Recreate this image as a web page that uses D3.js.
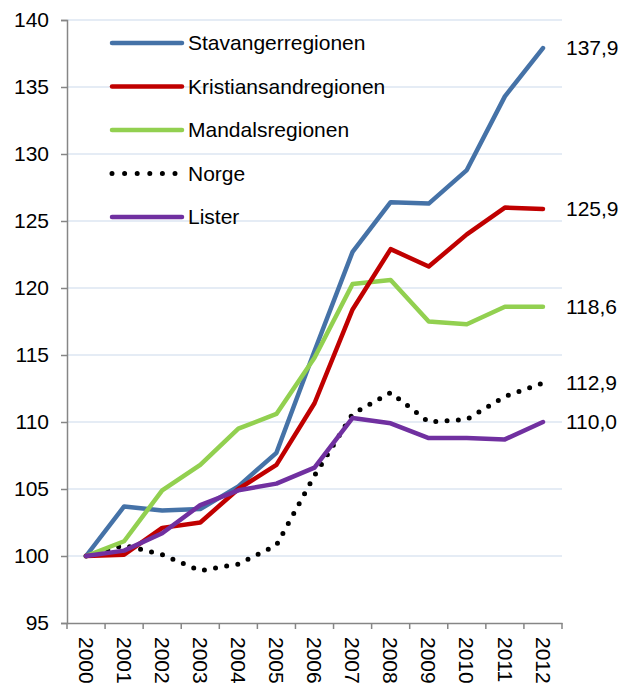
<!DOCTYPE html>
<html>
<head>
<meta charset="utf-8">
<script src="https://cdn.jsdelivr.net/npm/d3@7"></script>
<style>
  body { margin: 0; background: #fff; }
  text { font-family: "Liberation Sans", Arial, sans-serif; fill: #000; }
</style>
</head>
<body>
<div id="chart"></div>
<script>
var years = ["2000","2001","2002","2003","2004","2005","2006","2007","2008","2009","2010","2011","2012"];
var stavanger    = [100, 103.7, 103.4, 103.5, 105.2, 107.7, 115.3, 122.7, 126.4, 126.3, 128.8, 134.3, 137.9];
var kristiansand = [100, 100.1, 102.1, 102.5, 105.0, 106.8, 111.4, 118.4, 122.9, 121.6, 124.0, 126.0, 125.9];
var mandal       = [100, 101.1, 104.9, 106.8, 109.5, 110.6, 114.8, 120.3, 120.6, 117.5, 117.3, 118.6, 118.6];
var norge        = [100, 100.8, 100.1, 98.9, 99.4, 100.8, 106.0, 110.6, 112.2, 110.0, 110.2, 111.9, 112.9];
var lister       = [100, 100.4, 101.7, 103.8, 104.9, 105.4, 106.6, 110.3, 109.9, 108.8, 108.8, 108.7, 110.0];
var endLabels = ["137,9", "125,9", "118,6", "112,9", "110,0"];
var yTicks = [95, 100, 105, 110, 115, 120, 125, 130, 135, 140];

var series = [
  {name: "Stavangerregionen", values: stavanger, color: "#4572A7", label: endLabels[0]},
  {name: "Kristiansandregionen", values: kristiansand, color: "#C00000", label: endLabels[1]},
  {name: "Mandalsregionen", values: mandal, color: "#92D050", label: endLabels[2]},
  {name: "Norge", values: norge, color: "#000", dotted: true, label: endLabels[3]},
  {name: "Lister", values: lister, color: "#7030A0", label: endLabels[4]}
];
// draw order: Norge behind the others
var drawOrder = [3, 0, 2, 1, 4];

var width = 634, height = 687;
var plot = {left: 67, right: 562, top: 20, bottom: 623};
var fontSize = "21px";

var svg = d3.select("#chart").append("svg")
    .attr("width", width).attr("height", height);

var x = d3.scaleBand().domain(years).range([plot.left, plot.right]);
var y = d3.scaleLinear().domain([95, 140]).range([plot.bottom, plot.top]);

// gridlines
svg.append("g").selectAll("line")
  .data(yTicks.slice(1))
  .enter().append("line")
    .attr("x1", plot.left).attr("x2", plot.right)
    .attr("y1", d => y(d)).attr("y2", d => y(d))
    .attr("stroke", "#DCE6F2").attr("stroke-width", 1.5);

// y axis
var yAxis = svg.append("g")
    .attr("transform", "translate(" + plot.left + ",0)")
    .call(d3.axisLeft(y).tickValues(yTicks).tickSize(6).tickPadding(12));
yAxis.select(".domain").attr("stroke", "#868686").attr("stroke-width", 1.5);
yAxis.selectAll(".tick line").attr("stroke", "#868686").attr("stroke-width", 1.5);
yAxis.selectAll("text").style("font-size", fontSize).attr("fill", "#000")
    .style("font-family", "Liberation Sans, Arial, sans-serif");

// x axis
var xAxis = svg.append("g")
    .attr("transform", "translate(0," + plot.bottom + ")")
    .call(d3.axisBottom(x).tickSize(0).tickFormat(""));
xAxis.select(".domain").attr("stroke", "#868686").attr("stroke-width", 1.5);
xAxis.selectAll(".tick").remove();

var bounds = years.map(d => x(d)).concat([plot.right]);
svg.append("g").selectAll("line")
  .data(bounds)
  .enter().append("line")
    .attr("x1", d => d).attr("x2", d => d)
    .attr("y1", plot.bottom).attr("y2", plot.bottom + 6)
    .attr("stroke", "#868686").attr("stroke-width", 1.5);

svg.append("g").selectAll("text")
  .data(years)
  .enter().append("text")
    .attr("transform", d => "translate(" + (x(d) + x.bandwidth() / 2) + "," + (plot.bottom + 14) + ") rotate(90)")
    .attr("dy", "0.35em")
    .style("font-size", fontSize)
    .text(d => d);

// lines
var line = d3.line()
    .x((d, i) => x(years[i]) + x.bandwidth() / 2)
    .y(d => y(d));

svg.append("g").selectAll("path")
  .data(drawOrder.map(i => series[i]))
  .enter().append("path")
    .attr("d", d => line(d.values))
    .attr("fill", "none")
    .attr("stroke", d => d.color)
    .attr("stroke-width", d => d.dotted ? 5 : 4.5)
    .attr("stroke-linecap", "round")
    .attr("stroke-linejoin", "round")
    .attr("stroke-dasharray", d => d.dotted ? "0,11.3" : null);

// end labels
svg.append("g").selectAll("text")
  .data(series)
  .enter().append("text")
    .attr("x", plot.right + 4)
    .attr("y", d => y(d.values[d.values.length - 1]))
    .attr("dy", "0.35em")
    .style("font-size", fontSize)
    .text(d => d.label);

// legend
var legend = svg.append("g").selectAll("g")
  .data(series)
  .enter().append("g")
    .attr("transform", (d, i) => "translate(112," + (43 + i * 43.5) + ")");
legend.append("line")
    .attr("x1", 0).attr("x2", d => d.dotted ? 64 : 70)
    .attr("stroke", d => d.color)
    .attr("stroke-width", d => d.dotted ? 5 : 4.5)
    .attr("stroke-linecap", "round")
    .attr("stroke-dasharray", d => d.dotted ? "0,12.6" : null);
legend.append("text")
    .attr("x", 76)
    .attr("dy", "0.35em")
    .style("font-size", fontSize)
    .text(d => d.name);
</script>
</body>
</html>
